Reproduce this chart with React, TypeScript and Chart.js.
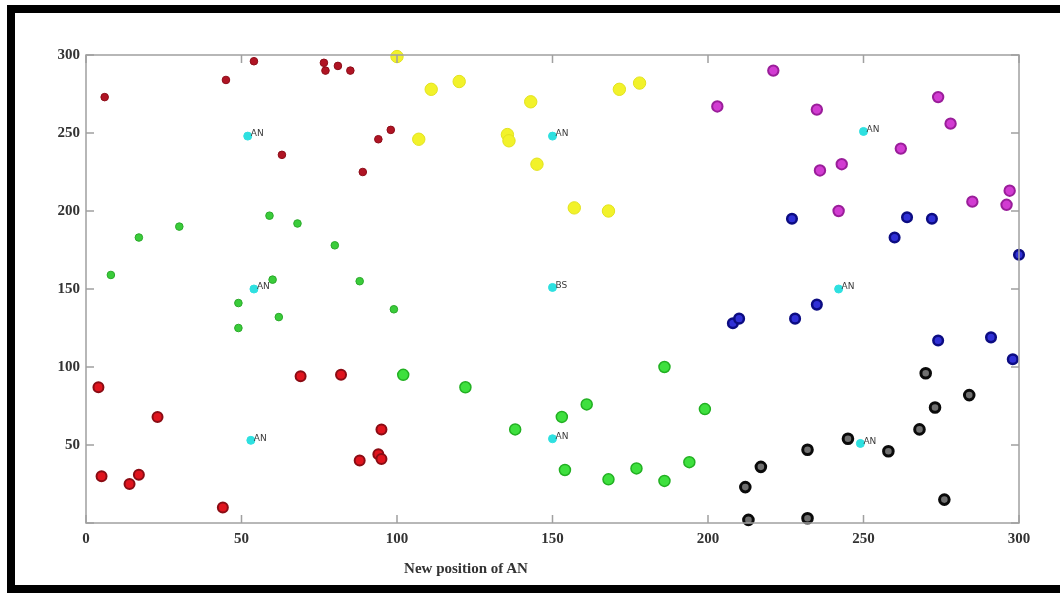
import React, { useEffect, useRef } from "react";
import { Chart, registerables } from "chart.js";

Chart.register(...registerables);

type P = [number, number];

const xTickValues = [0, 50, 100, 150, 200, 250, 300];
const yTickValues = [0, 50, 100, 150, 200, 250, 300];
const xAxisTitle = "New position of AN";

const redTop: P[] = [[6, 273], [45, 284], [54, 296], [76.5, 295], [77, 290], [81, 293], [85, 290], [63, 236], [89, 225], [94, 246], [98, 252]];
const redBottom: P[] = [[4, 87], [5, 30], [14, 25], [17, 31], [23, 68], [44, 10], [69, 94], [82, 95], [88, 40], [95, 60], [94, 44], [95, 41]];
const greenSmall: P[] = [[8, 159], [17, 183], [30, 190], [59, 197], [68, 192], [80, 178], [60, 156], [88, 155], [49, 141], [49, 125], [62, 132], [99, 137]];
const greenLarge: P[] = [[102, 95], [122, 87], [138, 60], [153, 68], [161, 76], [154, 34], [168, 28], [177, 35], [186, 100], [186, 27], [194, 39], [199, 73]];
const yellow: P[] = [[100, 299], [111, 278], [120, 283], [107, 246], [135.5, 249], [136, 245], [143, 270], [145, 230], [157, 202], [168, 200], [171.5, 278], [178, 282]];
const magenta: P[] = [[221, 290], [203, 267], [235, 265], [274, 273], [278, 256], [262, 240], [243, 230], [236, 226], [242, 200], [285, 206], [297, 213], [296, 204]];
const blue: P[] = [[227, 195], [264, 196], [272, 195], [260, 183], [300, 172], [208, 128], [210, 131], [228, 131], [235, 140], [274, 117], [291, 119], [298, 105]];
const black: P[] = [[270, 96], [284, 82], [273, 74], [268, 60], [245, 54], [258, 46], [232, 47], [217, 36], [212, 23], [213, 2], [232, 3], [276, 15]];
const nodes: P[] = [[52, 248], [54, 150], [53, 53], [150, 248], [150, 54], [250, 251], [242, 150], [249, 51], [150, 151]];
const nodeLabels = ["AN", "AN", "AN", "AN", "AN", "AN", "AN", "AN", "BS"];

const toPts = (a: P[]) => a.map(([x, y]) => ({ x, y }));

const boxPlugin = {
  id: "boxTicks",
  afterDatasetsDraw(chart: any) {
    const { ctx, chartArea: a, scales } = chart;
    ctx.save();
    ctx.strokeStyle = "#a0a0a0";
    ctx.lineWidth = 1.5;
    ctx.strokeRect(a.left, a.top, a.right - a.left, a.bottom - a.top);
    const len = 8;
    ctx.beginPath();
    xTickValues.forEach((v) => {
      const px = scales.x.getPixelForValue(v);
      ctx.moveTo(px, a.bottom);
      ctx.lineTo(px, a.bottom - len);
      ctx.moveTo(px, a.top);
      ctx.lineTo(px, a.top + len);
    });
    yTickValues.forEach((v) => {
      const py = scales.y.getPixelForValue(v);
      ctx.moveTo(a.left, py);
      ctx.lineTo(a.left + len, py);
      ctx.moveTo(a.right, py);
      ctx.lineTo(a.right - len, py);
    });
    ctx.stroke();
    const meta = chart.getDatasetMeta(chart.data.datasets.length - 1);
    ctx.font = "9px 'DejaVu Sans', sans-serif";
    ctx.fillStyle = "#3a3a3a";
    ctx.textBaseline = "middle";
    meta.data.forEach((el: any, i: number) => {
      ctx.fillText(nodeLabels[i], el.x + 3, el.y - 2);
    });
    ctx.restore();
  },
};

export default function App() {
  const ref = useRef<HTMLCanvasElement | null>(null);
  useEffect(() => {
    if (!ref.current) return;
    const ds = (data: P[], bg: string, border: string, r: number, bw: number) => ({
      data: toPts(data),
      backgroundColor: bg,
      borderColor: border,
      borderWidth: bw,
      pointRadius: r,
      pointHoverRadius: r,
      clip: false as any,
    });
    const chart = new Chart(ref.current, {
      type: "scatter",
      data: {
        datasets: [
          ds(redTop, "#b01424", "#8c0c18", 3.8, 1),
          ds(redBottom, "#e0141e", "#8a0c14", 5, 2),
          ds(greenSmall, "#3acc3a", "#2aa82a", 3.8, 1),
          ds(greenLarge, "#3ee03e", "#22b022", 5.5, 1.5),
          ds(yellow, "#f2f22a", "#e2e21e", 6.2, 1),
          ds(magenta, "#d23cd2", "#9a1e9a", 5.2, 2),
          ds(blue, "#3030d6", "#0c0c82", 4.8, 2.5),
          ds(black, "#707070", "#0a0a0a", 4.8, 3),
          ds(nodes, "#2ee0e0", "#2ee0e0", 4, 1),
        ],
      },
      options: {
        responsive: false,
        animation: false,
        layout: { padding: { left: 0, top: 55, right: 41, bottom: 0 } },
        plugins: { legend: { display: false }, tooltip: { enabled: false }, title: { display: false } },
        scales: {
          x: {
            type: "linear",
            min: 0,
            max: 300,
            afterFit: (s: any) => {
              s.height = 70;
            },
            ticks: {
              stepSize: 50,
              padding: 7,
              color: "#333333",
              font: { family: "'Liberation Serif', 'Times New Roman', serif", size: 15, weight: "bold" },
            },
            grid: { display: false, drawTicks: false },
            border: { display: false },
          },
          y: {
            type: "linear",
            min: 0,
            max: 300,
            afterFit: (s: any) => {
              s.width = 86;
            },
            ticks: {
              stepSize: 50,
              padding: 6,
              color: "#333333",
              font: { family: "'Liberation Serif', 'Times New Roman', serif", size: 15, weight: "bold" },
              callback: (v: any) => (v === 0 ? "" : String(v)),
            },
            grid: { display: false, drawTicks: false },
            border: { display: false },
          },
        },
      },
      plugins: [boxPlugin],
    });
    return () => chart.destroy();
  }, []);

  return (
    <div style={{ position: "fixed", left: 0, top: 0, width: 1060, height: 593, background: "#fff", overflow: "hidden" }}>
      <canvas ref={ref} width={1060} height={593} style={{ position: "absolute", left: 0, top: 0 }} />
      <div style={{ position: "absolute", left: 7, top: 5, width: 1053, height: 8, background: "#000" }} />
      <div style={{ position: "absolute", left: 7, top: 5, width: 8, height: 588, background: "#000" }} />
      <div style={{ position: "absolute", left: 7, top: 585, width: 1053, height: 8, background: "#000" }} />
      <div
        style={{
          position: "absolute",
          left: 366,
          width: 200,
          top: 559,
          textAlign: "center",
          fontFamily: "'Liberation Serif', 'Times New Roman', serif",
          fontWeight: "bold",
          fontSize: 15,
          color: "#333333",
          lineHeight: "18px",
        }}
      >
        {xAxisTitle}
      </div>
    </div>
  );
}
